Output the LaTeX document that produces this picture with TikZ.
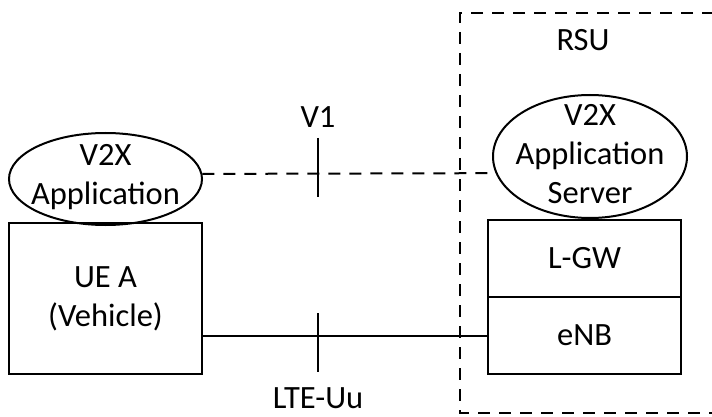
\documentclass[tikz,border=0pt]{standalone}
\usepackage{fontspec}
\setmainfont{Carlito}
\usetikzlibrary{shapes.geometric}
\begin{document}
\begin{tikzpicture}[x=1pt,y=-1pt,
  line width=2pt,
  every node/.style={font=\fontsize{32.5}{39}\selectfont},
  oval/.style={draw,ellipse,inner sep=0pt},
  boxnode/.style={draw,rectangle,inner sep=0pt},
  txt/.style={align=center,inner sep=0pt},
  dsh/.style={dash pattern=on 12pt off 9pt}]
\useasboundingbox (0,0) rectangle (712,417);
% RSU dashed frame (clipped on the right)
\draw[dsh] (714,13) -- (460,13) -- (460,413) -- (714,413);
\node[txt] (rsu) at (583,40) {RSU};
% UE side
\node[oval,minimum width=193pt,minimum height=92pt] (app) at (105.5,179) {};
\node[txt] (apptxt) at (105.5,177) {V2X\\Application};
\node[boxnode,minimum width=193pt,minimum height=151pt] (ue) at (105.5,298.5) {};
\node[txt] (uetxt) at (105.5,299) {UE A\\(Vehicle)};
% RSU side
\node[oval,minimum width=194pt,minimum height=123pt] (srv) at (590,156.5) {};
\node[txt] (srvtxt) at (590,154) {V2X\\Application\\Server};
\node[boxnode,minimum width=193pt,minimum height=77pt] (lgw) at (584.5,258.5) {L-GW};
\node[boxnode,minimum width=193pt,minimum height=77pt] (enb) at (584.5,335.5) {eNB};
% connectors
\draw[dsh] (app.3) -- (srv.190.7);
\draw (ue.east |- enb.west) -- (enb.west);
% reference point ticks
\coordinate (t1) at (318,138);
\coordinate (b1) at (318,197);
\draw (t1) -- (b1);
\coordinate (t2) at (318,313);
\coordinate (b2) at (318,372);
\draw (t2) -- (b2);
\node[txt] (v1) at (318,117) {V1};
\node[txt] (lte) at (318,398) {LTE-Uu};
\end{tikzpicture}
\end{document}
